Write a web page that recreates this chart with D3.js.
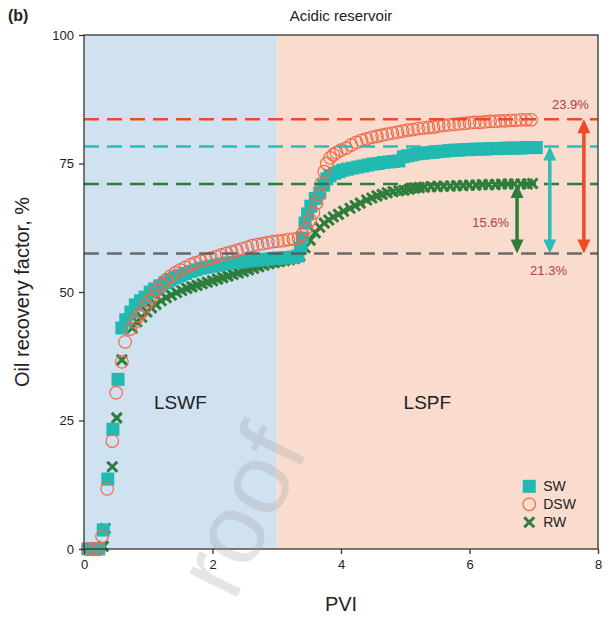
<!DOCTYPE html>
<html>
<head>
<meta charset="utf-8">
<script src="https://d3js.org/d3.v7.min.js"></script>
<style>
  body { margin: 0; background: #fff; }
  svg { display: block; font-family: "Liberation Sans", Arial, sans-serif; }
</style>
</head>
<body>
<script>
// [PVI, recovery factor %]
const sw = [
  [0.06, 0], [0.12, 0], [0.18, 0], [0.23, 0], [0.30, 3.7], [0.37, 13.6], [0.45, 23.3], [0.53, 33],
  [0.59, 43], [0.65, 44.6], [0.73, 46.1], [0.80, 47.5], [0.88, 48.3], [0.95, 49.0], [1.03, 50.0],
  [1.10, 50.6], [1.18, 51.2], [1.26, 51.8], [1.34, 52.3], [1.42, 52.8], [1.50, 53.2], [1.58, 53.6],
  [1.66, 54.0], [1.74, 54.3], [1.82, 54.6], [1.90, 54.8], [1.98, 55.0], [2.06, 55.2], [2.14, 55.4],
  [2.22, 55.6], [2.30, 55.7], [2.38, 55.8], [2.46, 55.9], [2.54, 56.0], [2.62, 56.1], [2.70, 56.2],
  [2.78, 56.3], [2.86, 56.4], [2.94, 56.5], [3.02, 56.6], [3.10, 56.6], [3.18, 56.7], [3.26, 56.8],
  [3.33, 57.0], [3.37, 58.5], [3.40, 60.5], [3.44, 63.4], [3.48, 65.2], [3.53, 66.7], [3.60, 68.2],
  [3.67, 69.3], [3.73, 70.8], [3.78, 72.0], [3.83, 72.6], [3.90, 73.1], [3.97, 73.4], [4.03, 73.7],
  [4.10, 73.9], [4.18, 74.1], [4.26, 74.3], [4.34, 74.5], [4.42, 74.7], [4.50, 74.9], [4.58, 75.0],
  [4.66, 75.2], [4.74, 75.3], [4.82, 75.4], [4.90, 75.5], [4.97, 76.3], [5.04, 76.5], [5.12, 76.7],
  [5.20, 76.9], [5.28, 77.0], [5.36, 77.1], [5.44, 77.2], [5.52, 77.3], [5.60, 77.4], [5.68, 77.5],
  [5.76, 77.6], [5.84, 77.6], [5.92, 77.7], [6.00, 77.7], [6.08, 77.8], [6.16, 77.8], [6.24, 77.8],
  [6.32, 77.9], [6.40, 77.9], [6.48, 77.9], [6.56, 78.0], [6.64, 78.0], [6.72, 78.0], [6.80, 78.0],
  [6.88, 78.1], [6.96, 78.1], [7.04, 78.1]
]

const dsw = [
  [0.06, 0], [0.14, 0], [0.22, 0], [0.28, 2.5], [0.36, 11.7], [0.44, 21], [0.50, 30.4], [0.59, 36.4],
  [0.64, 40.3], [0.72, 42.8], [0.79, 44.2], [0.85, 45.3], [0.90, 46.1], [0.96, 47.3], [1.02, 48.3],
  [1.08, 49.3], [1.14, 50.3], [1.21, 51.5], [1.28, 52.4], [1.35, 53.1], [1.42, 53.7], [1.50, 54.3],
  [1.58, 54.8], [1.66, 55.3], [1.74, 55.7], [1.82, 56.0], [1.90, 56.3], [1.98, 56.6], [2.06, 56.9],
  [2.14, 57.2], [2.22, 57.5], [2.30, 57.8], [2.38, 58.1], [2.46, 58.4], [2.54, 58.7], [2.62, 59.0],
  [2.70, 59.2], [2.78, 59.4], [2.86, 59.6], [2.94, 59.8], [3.02, 59.9], [3.10, 60.0], [3.18, 60.2],
  [3.26, 60.3], [3.34, 60.5], [3.40, 61.2], [3.46, 62.4], [3.52, 64.0], [3.57, 65.4], [3.62, 67.3],
  [3.66, 68.9], [3.70, 71.2], [3.74, 73.4], [3.78, 75.0], [3.83, 76.1], [3.88, 76.7], [3.93, 77.1],
  [4.00, 77.6], [4.08, 78.0], [4.16, 78.6], [4.24, 79.1], [4.32, 79.5], [4.40, 79.8], [4.48, 80.1],
  [4.56, 80.3], [4.64, 80.5], [4.72, 80.7], [4.80, 80.9], [4.88, 81.1], [4.96, 81.3], [5.04, 81.5],
  [5.12, 81.6], [5.20, 81.8], [5.28, 81.9], [5.36, 82.0], [5.44, 82.1], [5.52, 82.3], [5.60, 82.4],
  [5.68, 82.5], [5.76, 82.6], [5.84, 82.7], [5.92, 82.8], [6.00, 82.9], [6.08, 83.0], [6.16, 83.0],
  [6.24, 83.1], [6.32, 83.2], [6.40, 83.2], [6.48, 83.3], [6.56, 83.3], [6.64, 83.4], [6.72, 83.4],
  [6.80, 83.5], [6.88, 83.5], [6.96, 83.5]
]

const rw = [
  [0.12, 0], [0.20, 0], [0.30, 0.5], [0.33, 4.0], [0.44, 16], [0.51, 25.5], [0.59, 36.8], [0.75, 43.0],
  [0.82, 44.2], [0.90, 45.1], [0.98, 46.1], [1.05, 46.9], [1.12, 47.6], [1.20, 48.3], [1.28, 48.9],
  [1.36, 49.4], [1.44, 49.9], [1.52, 50.3], [1.60, 50.7], [1.68, 51.0], [1.76, 51.3], [1.84, 51.6],
  [1.92, 51.9], [2.00, 52.2], [2.08, 52.5], [2.16, 52.8], [2.24, 53.1], [2.32, 53.4], [2.40, 53.7],
  [2.48, 54.0], [2.56, 54.3], [2.64, 54.6], [2.72, 54.9], [2.80, 55.2], [2.88, 55.5], [2.96, 55.7],
  [3.04, 55.9], [3.12, 56.1], [3.20, 56.3], [3.28, 56.5], [3.36, 57.0], [3.44, 58.6], [3.52, 60.1],
  [3.60, 61.5], [3.67, 62.6], [3.74, 63.4], [3.81, 64.0], [3.88, 64.6], [3.96, 65.1], [4.04, 65.7],
  [4.14, 66.3], [4.22, 66.8], [4.30, 67.3], [4.40, 67.9], [4.48, 68.3], [4.56, 68.7], [4.64, 69.0],
  [4.72, 69.3], [4.81, 69.5], [4.90, 69.7], [4.98, 69.8], [5.06, 70.0], [5.14, 70.2], [5.22, 70.3],
  [5.30, 70.4], [5.40, 70.5], [5.50, 70.5], [5.60, 70.6], [5.70, 70.6], [5.80, 70.7], [5.90, 70.7],
  [6.00, 70.8], [6.10, 70.8], [6.20, 70.9], [6.30, 70.9], [6.40, 70.9], [6.50, 71.0], [6.60, 71.0],
  [6.70, 71.0], [6.80, 71.0], [6.90, 71.0], [6.98, 71.1]
]

// reference levels (dashed) and the increments
const levels = [
  { name: 'DSW', y: 83.6, color: '#ee4a26' },
  { name: 'SW', y: 78.3, color: '#2bbcb6' },
  { name: 'RW', y: 71.0, color: '#2e7d3c' },
  { name: 'base', y: 57.5, color: '#555' }
]
const gains = [
  { x: 6.74, top: 71.0, color: '#2e7d3c' },
  { x: 7.25, top: 78.3, color: '#2bbcb6' },
  { x: 7.78, top: 83.6, color: '#ee4a26' }
]
const gainLabels = [
  { x: 7.57, y: 86.5, text: '23.9%' },
  { x: 6.33, y: 63.6, text: '15.6%' },
  { x: 7.23, y: 54.1, text: '21.3%' }
]
const regions = [
  { from: 0, to: 3, label: 'LSWF', color: '#d0e1ef' },
  { from: 3, to: 8, label: 'LSPF', color: '#f9dccd' }
]
const xTicks = [0, 2, 4, 6, 8]
const yTicks = [0, 25, 50, 75, 100]

const width = 613
const height = 619
const margin = { top: 35, right: 15, bottom: 70, left: 84 }
const iw = width - margin.left - margin.right
const ih = height - margin.top - margin.bottom

const x = d3.scaleLinear().domain([0, 8]).range([0, iw])
const y = d3.scaleLinear().domain([0, 100]).range([ih, 0])

const svg = d3.select('body').append('svg')
  .attr('width', width)
  .attr('height', height)

const g = svg.append('g').attr('transform', `translate(${margin.left},${margin.top})`)

g.selectAll('rect.region')
  .data(regions)
  .join('rect')
  .attr('class', 'region')
  .attr('x', d => x(d.from))
  .attr('y', 0)
  .attr('width', d => x(d.to) - x(d.from))
  .attr('height', ih)
  .attr('fill', d => d.color)

g.selectAll('text.region')
  .data(regions)
  .join('text')
  .attr('class', 'region')
  .attr('x', d => x((d.from + d.to) / 2) - (d.from === 0 ? 0 : 10))
  .attr('y', y(27.2))
  .attr('text-anchor', 'middle')
  .attr('font-size', 19)
  .attr('fill', '#222')
  .text(d => d.label)

// watermark
svg.append('text')
  .attr('transform', 'translate(234,603) rotate(-64)')
  .attr('font-size', 100)
  .attr('fill', '#9c9c9c')
  .attr('fill-opacity', 0.26)
  .text('roof')

// markers
const sq = 13
g.append('g').selectAll('path')
  .data(rw)
  .join('path')
  .attr('transform', d => `translate(${x(d[0])},${y(d[1])})`)
  .attr('d', 'M-5,-5L5,5M-5,5L5,-5')
  .attr('stroke', '#2e7d3c')
  .attr('stroke-width', 3)
  .attr('fill', 'none')

g.append('g').selectAll('rect')
  .data(sw)
  .join('rect')
  .attr('x', d => x(d[0]) - sq / 2)
  .attr('y', d => y(d[1]) - sq / 2)
  .attr('width', sq)
  .attr('height', sq)
  .attr('fill', '#22b9b1')

g.append('g').selectAll('circle')
  .data(dsw)
  .join('circle')
  .attr('cx', d => x(d[0]))
  .attr('cy', d => y(d[1]))
  .attr('r', 6.3)
  .attr('fill', 'none')
  .attr('stroke', '#ef6a4c')
  .attr('stroke-width', 1.2)

// dashed levels
g.selectAll('line.level')
  .data(levels)
  .join('line')
  .attr('class', 'level')
  .attr('x1', 0)
  .attr('x2', iw)
  .attr('y1', d => y(d.y))
  .attr('y2', d => y(d.y))
  .attr('stroke', d => d.color)
  .attr('stroke-opacity', d => d.name === 'base' ? 0.85 : 1)
  .attr('stroke-width', 2.5)
  .attr('stroke-dasharray', '15,8')

// double arrows
const ah = 14, aw = 6.5
const base = levels[3].y
gains.forEach(d => {
  const px = x(d.x), y1 = y(d.top), y2 = y(base)
  g.append('line')
    .attr('x1', px).attr('x2', px)
    .attr('y1', y1 + ah - 1).attr('y2', y2 - ah + 1)
    .attr('stroke', d.color)
    .attr('stroke-width', 3.5)
  g.append('path')
    .attr('d', `M${px},${y1}L${px - aw},${y1 + ah}L${px + aw},${y1 + ah}Z`)
    .attr('fill', d.color)
  g.append('path')
    .attr('d', `M${px},${y2}L${px - aw},${y2 - ah}L${px + aw},${y2 - ah}Z`)
    .attr('fill', d.color)
})

g.selectAll('text.gain')
  .data(gainLabels)
  .join('text')
  .attr('class', 'gain')
  .attr('x', d => x(d.x))
  .attr('y', d => y(d.y))
  .attr('text-anchor', 'middle')
  .attr('dy', '0.35em')
  .attr('font-size', 13)
  .attr('fill', '#b2413f')
  .text(d => d.text)

// frame
g.append('rect')
  .attr('width', iw)
  .attr('height', ih)
  .attr('fill', 'none')
  .attr('stroke', '#333')
  .attr('stroke-width', 1.3)

const xAxis = g.append('g')
  .attr('transform', `translate(0,${ih})`)
  .call(d3.axisBottom(x).tickValues(xTicks).tickSize(5).tickPadding(6))
const yAxis = g.append('g')
  .call(d3.axisLeft(y).tickValues(yTicks).tickSize(5).tickPadding(5))
;[xAxis, yAxis].forEach(a => {
  a.select('.domain').remove()
  a.selectAll('line').attr('stroke', '#333').attr('stroke-width', 1.3)
  a.selectAll('text').attr('font-size', 13).attr('fill', '#222')
    .attr('font-family', '"Liberation Sans", Arial, sans-serif')
})

svg.append('text')
  .attr('x', margin.left + iw / 2)
  .attr('y', 611)
  .attr('text-anchor', 'middle')
  .attr('font-size', 20)
  .attr('fill', '#222')
  .text('PVI')

svg.append('text')
  .attr('transform', `translate(29,${margin.top + ih / 2}) rotate(-90)`)
  .attr('text-anchor', 'middle')
  .attr('font-size', 20)
  .attr('fill', '#222')
  .text('Oil recovery factor, %')

svg.append('text')
  .attr('x', margin.left + iw / 2)
  .attr('y', 21)
  .attr('text-anchor', 'middle')
  .attr('font-size', 15)
  .attr('fill', '#222')
  .text('Acidic reservoir')

svg.append('text')
  .attr('x', 8)
  .attr('y', 21)
  .attr('font-size', 16)
  .attr('font-weight', 'bold')
  .attr('fill', '#222')
  .text('(b)')

// legend
const legend = [
  { name: 'SW', kind: 'square' },
  { name: 'DSW', kind: 'circle' },
  { name: 'RW', kind: 'cross' }
]
const lg = g.append('g').attr('transform', `translate(${x(6.93)},${y(12.2)})`)
legend.forEach((d, i) => {
  const row = lg.append('g').attr('transform', `translate(0,${i * 18})`)
  if (d.kind === 'square') {
    row.append('rect').attr('x', -6.5).attr('y', -6.5).attr('width', 13).attr('height', 13).attr('fill', '#22b9b1')
  } else if (d.kind === 'circle') {
    row.append('circle').attr('r', 6.3).attr('fill', 'none').attr('stroke', '#ef6a4c').attr('stroke-width', 1.2)
  } else {
    row.append('path').attr('d', 'M-5,-5L5,5M-5,5L5,-5').attr('stroke', '#2e7d3c').attr('stroke-width', 3)
  }
  row.append('text')
    .attr('x', 14)
    .attr('dy', '0.35em')
    .attr('font-size', 14)
    .attr('fill', '#222')
    .text(d.name)
})
</script>
</body>
</html>
